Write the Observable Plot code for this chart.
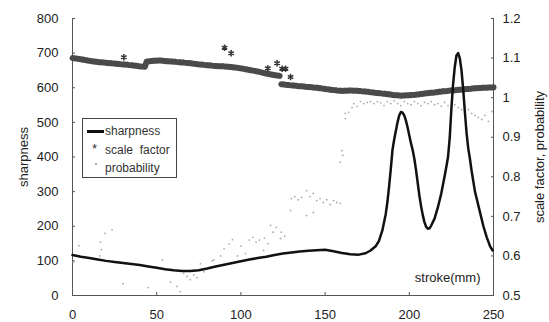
<!DOCTYPE html>
<html>
<head>
<meta charset="utf-8">
<script src="https://cdn.jsdelivr.net/npm/d3@7"></script>
<script src="https://cdn.jsdelivr.net/npm/@observablehq/plot@0.6"></script>
<style>
  html, body { margin: 0; padding: 0; background: #fff; }
  #wrap { position: relative; width: 549px; height: 322px; font-family: "Liberation Sans", Arial, sans-serif; }
  #legend { position: absolute; left: 82px; top: 118px; width: 93px; height: 58px; border: 1px solid #444; background: #fff; font-size: 12px; color: #333; }
  #legend .row { position: absolute; left: 0; height: 14px; line-height: 14px; }
  #legend .txt { position: absolute; left: 22px; white-space: nowrap; }
</style>
</head>
<body>
<div id="wrap">
  <div id="chart"></div>
  <div id="legend">
    <div class="row" style="top:5px;width:93px"><span style="position:absolute;left:4px;top:6px;width:17px;height:2.5px;background:#111"></span><span class="txt">sharpness</span></div>
    <div class="row" style="top:24px;width:93px"><span style="position:absolute;left:9px;top:-1px;font-size:13px;color:#333">*</span><span class="txt">scale&nbsp; factor</span></div>
    <div class="row" style="top:42px;width:93px"><span style="position:absolute;left:12px;top:2px;width:1.5px;height:1.5px;background:#aaa"></span><span class="txt">probability</span></div>
  </div>
</div>
<script>
// ---- tick labels ----
const xTicks = [0, 50, 100, 150, 200, 250];
const yTicks = [0, 100, 200, 300, 400, 500, 600, 700, 800];
const rightTicks = [0.5, 0.6, 0.7, 0.8, 0.9, 1.0, 1.1, 1.2];

// ---- sharpness (left axis) ----
const sharpX = [0, 5, 10, 15, 20, 25, 30, 35, 40, 45, 50, 55, 60, 65, 70, 75, 80, 85, 90, 95, 100, 105, 110, 115, 120, 125, 130, 135, 140, 145, 150, 155, 160, 165, 170, 174, 177, 180, 182, 184, 186, 187, 188, 189, 190, 191, 192, 193, 194, 195, 196, 197, 198, 199, 200, 201, 202, 203, 204, 205, 206, 207, 208, 209, 210, 211, 212, 213, 215, 217, 219, 221, 222, 223, 224, 225, 226, 227, 228, 229, 230, 231, 232, 233, 234, 235, 236, 237, 238, 239, 240, 242, 244, 246, 248, 249.5];
const sharpY = [117, 112, 108, 104, 100, 97, 94, 91, 88, 84, 80, 76, 73, 71, 71, 73, 78, 84, 89, 94, 99, 104, 108, 112, 117, 121, 124, 127, 129, 131, 132, 128, 123, 119, 118, 122, 130, 142, 158, 188, 235, 270, 315, 365, 420, 450, 475, 500, 520, 530, 528, 520, 505, 485, 462, 440, 420, 395, 362, 325, 288, 258, 232, 212, 198, 193, 194, 202, 222, 255, 295, 345, 372, 400, 455, 540, 610, 660, 693, 700, 685, 650, 595, 530, 470, 425, 395, 360, 330, 300, 280, 240, 200, 168, 142, 130];

// ---- scale factor (right axis), two runs ----
const scaleX1 = [0, 5, 10, 15, 20, 25, 30, 35, 40, 43, 44, 48, 52, 56, 60, 65, 70, 75, 80, 85, 90, 95, 100, 105, 110, 115, 120, 123];
const scaleV1 = [1.100, 1.097, 1.093, 1.090, 1.088, 1.086, 1.084, 1.082, 1.079, 1.078, 1.091, 1.093, 1.094, 1.092, 1.091, 1.089, 1.087, 1.084, 1.082, 1.080, 1.079, 1.077, 1.074, 1.070, 1.066, 1.061, 1.057, 1.055];
const scaleX2 = [124, 130, 135, 140, 145, 150, 155, 160, 165, 170, 175, 180, 185, 190, 195, 200, 205, 210, 215, 220, 225, 230, 235, 240, 245, 250];
const scaleV2 = [1.034, 1.031, 1.029, 1.027, 1.025, 1.022, 1.019, 1.017, 1.018, 1.017, 1.015, 1.012, 1.010, 1.007, 1.005, 1.006, 1.008, 1.011, 1.013, 1.016, 1.018, 1.020, 1.022, 1.024, 1.025, 1.026];
const outX = [30.5, 90.3, 94.2, 116, 121.5, 124.5, 126.5, 129.5];
const outV = [1.102, 1.126, 1.112, 1.074, 1.087, 1.073, 1.073, 1.052];

// ---- probability (right axis) ----
const probX = [0.5, 2, 3.8, 16.3, 16.6, 17.2, 19.2, 23.5, 30, 45, 53.3, 58.2, 62, 64, 66, 68, 70, 72, 74, 76, 78, 83, 84, 88, 90, 93, 95, 98, 100, 102.7, 105, 107, 109, 111, 113.5, 114, 116, 117.6, 119, 121, 123.5, 124, 126, 129.5, 130, 132, 134, 136, 139, 139, 141, 143, 143, 145, 147, 149, 151, 153, 155, 157, 159, 159, 160, 160.5, 162, 162, 164, 166, 167, 169, 171, 173, 175, 177, 179, 181, 183, 185, 187, 189, 191, 193, 195, 197, 199, 201, 203, 205, 207, 209, 211, 213, 215, 217, 219, 221, 223, 225, 227, 229, 231, 233, 235, 237, 239, 241, 243, 245, 247, 249];
const probV = [0.584, 0.60, 0.626, 0.60, 0.635, 0.616, 0.657, 0.666, 0.53, 0.52, 0.59, 0.534, 0.523, 0.51, 0.556, 0.548, 0.54, 0.552, 0.545, 0.58, 0.56, 0.588, 0.59, 0.60, 0.618, 0.63, 0.641, 0.60, 0.625, 0.606, 0.64, 0.647, 0.635, 0.64, 0.614, 0.645, 0.631, 0.677, 0.66, 0.672, 0.644, 0.66, 0.65, 0.715, 0.745, 0.75, 0.742, 0.748, 0.765, 0.702, 0.75, 0.758, 0.71, 0.74, 0.745, 0.735, 0.742, 0.73, 0.74, 0.735, 0.733, 0.837, 0.866, 0.854, 0.96, 0.947, 0.963, 0.975, 0.985, 0.978, 0.99, 0.985, 0.988, 0.99, 0.985, 0.99, 0.987, 0.98, 0.99, 0.985, 0.992, 0.985, 0.98, 0.99, 0.985, 0.982, 0.99, 0.985, 0.98, 0.988, 0.985, 0.99, 0.982, 0.985, 0.978, 0.988, 0.98, 0.975, 0.982, 0.975, 0.97, 0.978, 0.97, 0.96, 0.955, 0.95, 0.945, 0.955, 0.94, 0.965];

// map right-axis values onto the left scale (0.5..1.2 <-> 0..800)
const toLeft = v => (v - 0.5) / 0.7 * 800;
const fromLeft = d => 0.5 + d / 800 * 0.7;

const sharp = sharpX.map((x, i) => ({x, y: sharpY[i]}));
const scale = [
  ...scaleX1.map((x, i) => ({x, y: toLeft(scaleV1[i]), run: 1})),
  ...scaleX2.map((x, i) => ({x, y: toLeft(scaleV2[i]), run: 2}))
];
const outliers = outX.map((x, i) => ({x, y: toLeft(outV[i])}));
const prob = probX.map((x, i) => ({x, y: toLeft(probV[i])}));

const chart = Plot.plot({
  width: 549,
  height: 322,
  marginLeft: 72,
  marginRight: 56,
  marginTop: 18,
  marginBottom: 27,
  x: {domain: [0, 250]},
  y: {domain: [0, 800]},
  style: {fontFamily: "'Liberation Sans', Arial, sans-serif", fontSize: "13px", color: "#222", background: "#fff", overflow: "visible"},
  marks: [
    Plot.axisX({ticks: xTicks, tickSize: -3, tickPadding: 17, tickFormat: d => String(d), label: null, stroke: "#555"}),
    Plot.axisY({ticks: yTicks, tickSize: -3, tickPadding: 17, tickFormat: d => String(d), label: "sharpness", labelAnchor: "center", labelOffset: 54, labelArrow: "none", stroke: "#555", fontSize: 13}),
    Plot.axisY({anchor: "right", ticks: rightTicks.map(toLeft), tickSize: -3, tickPadding: 12,
      tickFormat: d => String(+fromLeft(d).toFixed(1)), label: "scale factor, probability", labelAnchor: "center", labelOffset: 50, labelArrow: "none", stroke: "#555"}),
    Plot.ruleX([0], {stroke: "#555", strokeWidth: 1}),
    Plot.ruleX([250], {stroke: "#555", strokeWidth: 1}),
    Plot.ruleY([0], {stroke: "#555", strokeWidth: 1}),
    Plot.dot(prob, {x: "x", y: "y", r: 0.9, fill: "#ababab", stroke: "none"}),
    Plot.line(scale, {x: "x", y: "y", z: "run", stroke: "#4a4a4a", strokeWidth: 6, strokeDasharray: "3,1"}),
    Plot.dot(outliers, {x: "x", y: "y", symbol: "asterisk", r: 3, stroke: "#333", strokeWidth: 1.5}),
    Plot.line(sharp, {x: "x", y: "y", stroke: "#111", strokeWidth: 2.5}),
    Plot.text(["stroke(mm)"], {frameAnchor: "bottom-right", text: d => d, dx: -13, dy: -18, lineAnchor: "middle", textAnchor: "end", fontSize: 13, fill: "#222"})
  ]
});
document.getElementById("chart").appendChild(chart);
</script>
</body>
</html>
